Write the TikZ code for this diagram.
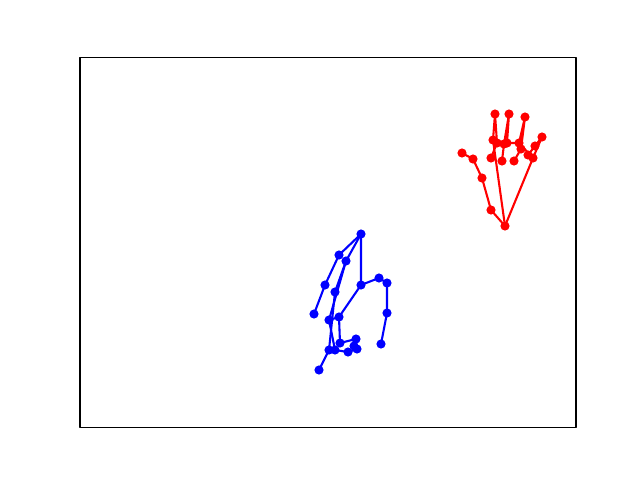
\documentclass[tikz,border=0pt]{standalone}
\usepackage{tikz}
\usepackage{xcolor}

\begin{document}
\begin{tikzpicture}[x=0.72pt,y=-0.72pt,line join=round,bone/.style={line width=1.5pt}]
\useasboundingbox (0,0) rectangle (640,480);
\draw[line width=0.8pt] (80,57.6) rectangle (576,427.2);
% red hand
\coordinate (r0) at (505,226);
\coordinate (r1) at (491,210);
\coordinate (r2) at (482,178);
\coordinate (r3) at (473,159);
\coordinate (r4) at (462,153);
\coordinate (r5) at (493,140);
\coordinate (r6) at (495,114);
\coordinate (r7) at (497,143);
\coordinate (r8) at (491,158);
\coordinate (r9) at (507,143);
\coordinate (r10) at (509,114);
\coordinate (r11) at (504,144);
\coordinate (r12) at (502,161);
\coordinate (r13) at (519,143);
\coordinate (r14) at (525,117);
\coordinate (r15) at (521,149);
\coordinate (r16) at (514,161);
\coordinate (r17) at (533,158);
\coordinate (r18) at (542,137);
\coordinate (r19) at (535,146);
\coordinate (r20) at (528,155);
\draw[bone,red] (r0) -- (r1) -- (r2) -- (r3) -- (r4);
\draw[bone,red] (r0) -- (r5) -- (r6) -- (r7) -- (r8);
\draw[bone,red] (r5) -- (r9) -- (r10) -- (r11) -- (r12);
\draw[bone,red] (r9) -- (r13) -- (r14) -- (r15) -- (r16);
\draw[bone,red] (r13) -- (r17) -- (r18) -- (r19) -- (r20);
\draw[bone,red] (r0) -- (r17);
\foreach \i in {0,...,20} \fill[red] (r\i) circle (3.3pt);
% blue hand
\coordinate (b0) at (361,285);
\coordinate (b1) at (379,278);
\coordinate (b2) at (387,283);
\coordinate (b3) at (387,313);
\coordinate (b4) at (381,344);
\coordinate (b5) at (361,234);
\coordinate (b6) at (339,255);
\coordinate (b7) at (325,285);
\coordinate (b8) at (314,314);
\coordinate (b9) at (346,261);
\coordinate (b10) at (335,292);
\coordinate (b11) at (329,350);
\coordinate (b12) at (319,370);
\coordinate (b13) at (329,320);
\coordinate (b14) at (335,350);
\coordinate (b15) at (348,352);
\coordinate (b16) at (357,349);
\coordinate (b17) at (339,317);
\coordinate (b18) at (340,343);
\coordinate (b19) at (356,339);
\coordinate (b20) at (354,346);
\draw[bone,blue] (b0) -- (b1) -- (b2) -- (b3) -- (b4);
\draw[bone,blue] (b0) -- (b5) -- (b6) -- (b7) -- (b8);
\draw[bone,blue] (b5) -- (b9) -- (b10) -- (b11) -- (b12);
\draw[bone,blue] (b9) -- (b13) -- (b14) -- (b15) -- (b16);
\draw[bone,blue] (b13) -- (b17) -- (b18) -- (b19) -- (b20);
\draw[bone,blue] (b0) -- (b17);
\foreach \i in {0,...,20} \fill[blue] (b\i) circle (3.3pt);
\end{tikzpicture}
\end{document}
